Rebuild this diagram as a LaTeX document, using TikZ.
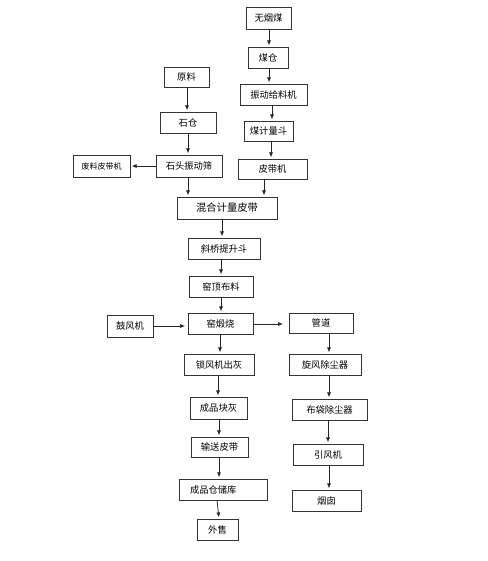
\documentclass[tikz,border=0pt]{standalone}
\usepackage{fontspec}
\newfontfamily\cjk{Noto Sans CJK SC}
\usetikzlibrary{arrows.meta}
\begin{document}
\begin{tikzpicture}[x=1pt,y=-1pt,
  box/.style={draw=black!80, line width=0.75pt, inner sep=0pt, font=\cjk\fontsize{9.3}{11}\selectfont, anchor=center},
  arr/.style={draw=black!85, line width=0.75pt, -{Latex[length=5pt,width=4pt]}, shorten >=1.2pt}]
\fill[white] (0,0) rectangle (487,561);
\useasboundingbox (0,0) rectangle (487,561);
% boxes
\node[box, minimum width=45pt, minimum height=22pt] (wym) at (268.5,18) {无烟煤};
\node[box, minimum width=40pt, minimum height=21pt] (mc) at (268,57.5) {煤仓};
\node[box, minimum width=45pt, minimum height=20pt] (yl) at (186.5,77) {原料};
\node[box, minimum width=67pt, minimum height=21pt] (zd) at (273.5,94.5) {振动给料机};
\node[box, minimum width=56pt, minimum height=21pt] (sc) at (188,122.5) {石仓};
\node[box, minimum width=49pt, minimum height=20pt] (mj) at (268.5,131) {煤计量斗};
\node[box, minimum width=57pt, minimum height=22pt, font=\cjk\fontsize{8}{9}\selectfont] (fl) at (101.5,166) {废料皮带机};
\node[box, minimum width=66pt, minimum height=22pt] (sz) at (189,166) {石头振动筛};
\node[box, minimum width=69pt, minimum height=20pt] (pd) at (272.5,169) {皮带机};
\node[box, minimum width=100pt, minimum height=22pt, font=\cjk\fontsize{10.3}{12}\selectfont] (hh) at (227,208) {混合计量皮带};
\node[box, minimum width=72pt, minimum height=21pt] (xq) at (224,248.5) {斜桥提升斗};
\node[box, minimum width=64pt, minimum height=21pt] (yd) at (221,286.5) {窑顶布料};
\node[box, minimum width=46pt, minimum height=22pt] (gf) at (130,326) {鼓风机};
\node[box, minimum width=65pt, minimum height=21pt] (ys) at (220.5,323.5) {窑煅烧};
\node[box, minimum width=64pt, minimum height=20pt] (gd) at (321,323) {管道};
\node[box, minimum width=70pt, minimum height=21pt] (sf) at (219,364.5) {锁风机出灰};
\node[box, minimum width=72pt, minimum height=21pt] (xf) at (325,364.5) {旋风除尘器};
\node[box, minimum width=57pt, minimum height=22pt] (cp) at (218.5,408) {成品块灰};
\node[box, minimum width=75pt, minimum height=21pt] (bd) at (329.5,409.5) {布袋除尘器};
\node[box, minimum width=57pt, minimum height=20pt] (ss) at (219.5,447) {输送皮带};
\node[box, minimum width=70pt, minimum height=21pt] (yf) at (328,454.5) {引风机};
\node[box, minimum width=88pt, minimum height=21pt, text width=66pt, inner xsep=11pt, align=left] (ck) at (223,489.5) {成品仓储库};
\node[box, minimum width=69pt, minimum height=21pt] (yc) at (326.5,500.5) {烟囱};
\node[box, minimum width=41pt, minimum height=21pt] (ws) at (217.5,529.5) {外售};
% column coordinates
\coordinate (k269) at (269,0);
\coordinate (k272) at (272,0);
\coordinate (k271) at (271,0);
\coordinate (k187) at (187,0);
\coordinate (k188) at (188,0);
\coordinate (k264) at (264,0);
\coordinate (k222) at (222,0);
\coordinate (k221) at (221,0);
\coordinate (k220) at (220,0);
\coordinate (k218) at (218,0);
\coordinate (k219) at (219,0);
\coordinate (k217) at (217,0);
\coordinate (k329) at (329,0);
\coordinate (k328) at (328,0);
\coordinate (y326) at (0,326);
\coordinate (y324) at (0,324);
% arrows
\draw[arr] (wym.south -| k269) -- (mc.north -| k269);
\draw[arr] (mc.south -| k269) -- (zd.north -| k269);
\draw[arr] (zd.south -| k272) -- (mj.north -| k272);
\draw[arr] (mj.south -| k271) -- (pd.north -| k271);
\draw[arr] (yl.south -| k187) -- (sc.north -| k187);
\draw[arr] (sc.south -| k188) -- (sz.north -| k188);
\draw[arr] (sz.west) -- (sz.west -| fl.east);
\draw[arr] (sz.south -| k188) -- (hh.north -| k188);
\draw[arr] (pd.south -| k264) -- (hh.north -| k264);
\draw[arr] (hh.south -| k222) -- (xq.north -| k222);
\draw[arr] (xq.south -| k221) -- (yd.north -| k221);
\draw[arr] (yd.south -| k221) -- (ys.north -| k221);
\draw[arr, shorten >=2.5pt] (gf.east |- y326) -- (ys.west |- y326);
\draw[arr, shorten >=5.5pt] (ys.east |- y324) -- (gd.west |- y324);
\draw[arr] (ys.south -| k220) -- (sf.north -| k220);
\draw[arr] (sf.south -| k218) -- (cp.north -| k218);
\draw[arr] (cp.south -| k219) -- (ss.north -| k219);
\draw[arr] (ss.south -| k219) -- (ck.north -| k219);
\draw[arr] (ck.south -| k217) -- (ws.north -| k219);
\draw[arr] (gd.south -| k329) -- (xf.north -| k329);
\draw[arr] (xf.south -| k329) -- (bd.north -| k329);
\draw[arr] (bd.south -| k328) -- (yf.north -| k328);
\draw[arr] (yf.south -| k329) -- (yc.north -| k329);
\end{tikzpicture}
\end{document}
